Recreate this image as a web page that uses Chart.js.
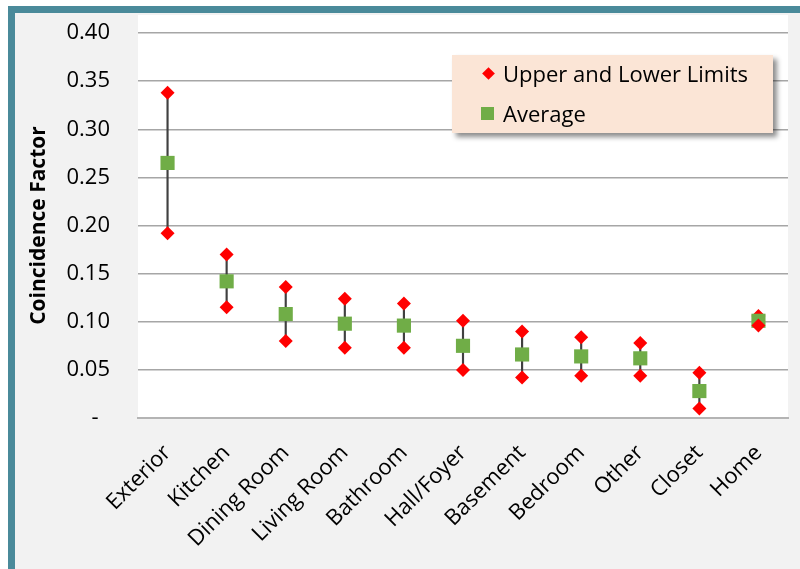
<!DOCTYPE html>
<html>
<head>
<meta charset="utf-8">
<script src="https://cdn.jsdelivr.net/npm/chart.js@4/dist/chart.umd.min.js"></script>
<style>
  html, body { margin: 0; background: #fff; overflow: hidden; width: 800px; height: 569px; }
  body { font-family: "Open Sans", sans-serif; }
  #frame { position: absolute; left: 8px; top: 6px; width: 785px; height: 563px;
           border-left: 7px solid #4a8a9a; border-top: 7px solid #4a8a9a; background: #f2f2f2; }
  #wrap { position: absolute; left: 0; top: 0; width: 800px; height: 569px; }
  #legend { position: absolute; left: 452px; top: 55px; width: 321px; height: 78px;
            background: #fbe5d6; box-shadow: 4px 4px 5px rgba(0,0,0,0.45); font-size: 22px; color: #000; }
  .dia { position: absolute; left: 32px; width: 9px; height: 9px; background: #ff0000; transform: rotate(45deg); }
  .sq { position: absolute; left: 29px; width: 13px; height: 13px; background: #70ad47; }
  .txt { position: absolute; left: 51px; white-space: nowrap; line-height: 28px; }
</style>
</head>
<body>
<div id="frame"></div>
<div id="wrap"><canvas id="c" width="800" height="569"></canvas></div>
<div id="legend">
  <div class="dia" style="top:14px"></div><span class="txt" style="top:4px">Upper and Lower Limits</span>
  <div class="sq" style="top:52px"></div><span class="txt" style="top:44px">Average</span>
</div>
<script>
// data
var categories = ['Exterior', 'Kitchen', 'Dining Room', 'Living Room', 'Bathroom', 'Hall/Foyer',
                  'Basement', 'Bedroom', 'Other', 'Closet', 'Home'];
var upperLimit = [0.338, 0.170, 0.136, 0.124, 0.119, 0.101, 0.090, 0.084, 0.078, 0.047, 0.106];
var average    = [0.265, 0.142, 0.108, 0.098, 0.096, 0.075, 0.066, 0.064, 0.062, 0.028, 0.101];
var lowerLimit = [0.192, 0.115, 0.080, 0.073, 0.073, 0.050, 0.042, 0.044, 0.044, 0.010, 0.096];
var yMin = 0, yMax = 0.40, yStep = 0.05;

// range line from lower to upper limit
var ranges = lowerLimit.map(function (lo, i) { return [lo, upperLimit[i]]; });

// white plot background
var plotBg = {
  id: 'plotBg',
  beforeDraw: function (chart) {
    var a = chart.chartArea, ctx = chart.ctx;
    ctx.save();
    ctx.fillStyle = '#ffffff';
    ctx.fillRect(a.left, a.top - 18, a.right - a.left, a.bottom - a.top + 18);
    ctx.restore();
  }
};

var ctx = document.getElementById('c').getContext('2d');
var chart = new Chart(ctx, {
  type: 'bar',
  data: {
    labels: categories,
    datasets: [
      { type: 'line', label: 'Lower', data: lowerLimit, showLine: false,
        pointStyle: 'rectRot', pointRadius: 7, pointBackgroundColor: '#ff0000', pointBorderWidth: 0 },
      { type: 'line', label: 'Average', data: average, showLine: false,
        pointStyle: 'rect', pointRadius: 10, pointBackgroundColor: '#70ad47', pointBorderWidth: 0 },
      { type: 'line', label: 'Upper', data: upperLimit, showLine: false,
        pointStyle: 'rectRot', pointRadius: 7, pointBackgroundColor: '#ff0000', pointBorderWidth: 0 },
      { type: 'bar', label: 'Range', data: ranges, backgroundColor: '#404040',
        barThickness: 1.5, borderWidth: 0 }
    ]
  },
  options: {
    responsive: false,
    animation: false,
    layout: { padding: { left: 26, right: 12, top: 33, bottom: 0 } },
    plugins: { legend: { display: false }, tooltip: { enabled: false } },
    scales: {
      x: {
        grid: { display: false },
        border: { display: true, color: '#b4b4b4', width: 2 },
        ticks: { color: '#000', font: { family: 'Open Sans', size: 22 }, minRotation: 45, maxRotation: 45,
                 padding: 14, autoSkip: false },
        afterFit: function (s) { s.height = 151; s.paddingLeft = 0; s.paddingRight = 0; }
      },
      y: {
        min: yMin, max: yMax,
        grid: { color: '#a6a6a6', lineWidth: 1.5, drawTicks: false },
        border: { display: false },
        ticks: {
          stepSize: yStep, color: '#000', font: { family: 'Open Sans', size: 22 }, padding: 28,
          callback: function (v) { return v === 0 ? '-  ' : v.toFixed(2); }
        },
        title: { display: true, text: 'Coincidence Factor', color: '#000',
                 font: { family: 'Open Sans', size: 21, weight: 'bold' }, padding: { top: 0, bottom: 0 } },
        afterFit: function (s) { s.width = 112; s.paddingTop = 0; s.paddingBottom = 0; }
      }
    }
  },
  plugins: [plotBg]
});
</script>
</body>
</html>
